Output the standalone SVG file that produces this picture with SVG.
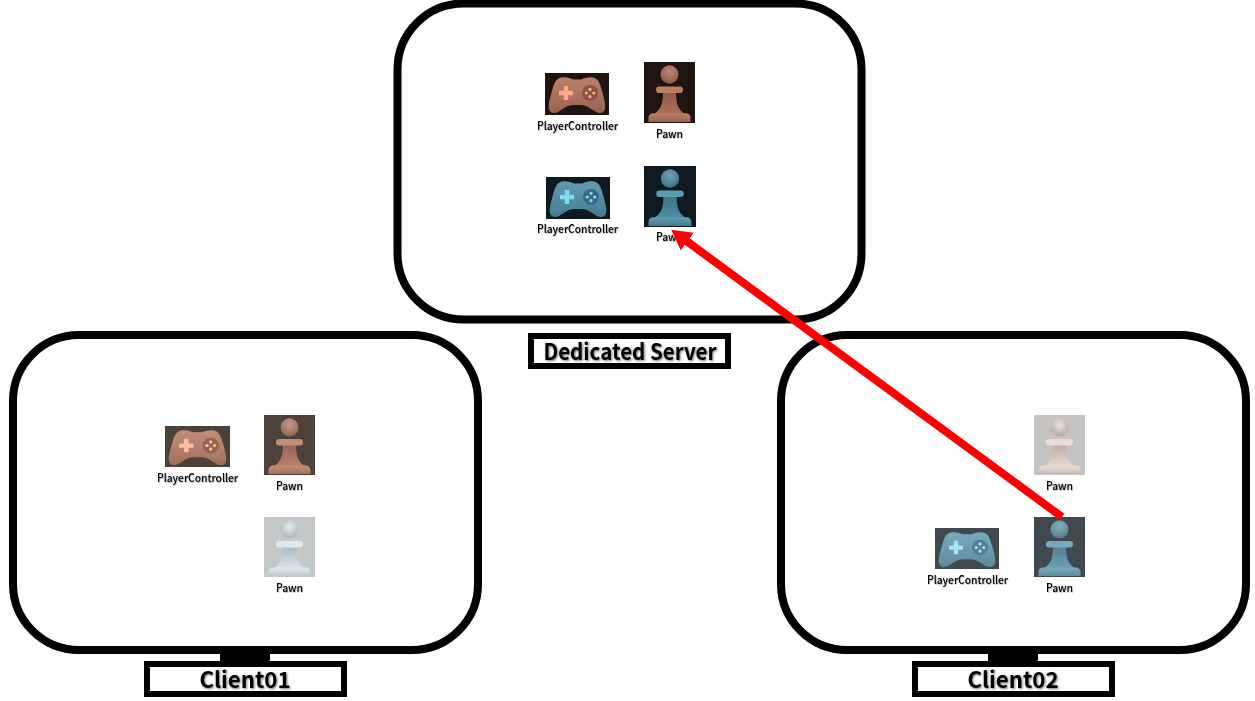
<svg xmlns="http://www.w3.org/2000/svg" width="1255" height="701" viewBox="0 0 1255 701">
<style>
.frame{fill:#fff;stroke:#000;stroke-width:8}
.box{fill:#fff;stroke:#000;stroke-width:6}
.title{font-family:"Noto Sans CJK KR","Noto Sans",sans-serif;font-weight:700;font-size:22px;fill:#000;text-anchor:middle;filter:url(#ts)}
.small{font-family:"Noto Sans CJK KR","Noto Sans",sans-serif;font-weight:500;font-size:11px;fill:#000;text-anchor:middle;filter:url(#ts2)}
.orange{--bg:#1f1410;--b:#b0705a;--d:#bd7c64;--hi:#ffa987;--dk:#8a5441}
.blue{--bg:#0f1a20;--b:#4f8ea6;--d:#5b9bb3;--hi:#7fdcf5;--dk:#3a6b80}
.orangeC{--bg:#4c423c;--b:#b9806a;--d:#c48c75;--hi:#ffc0a6;--dk:#96634f}
.blueC{--bg:#40494e;--b:#6a9fb3;--d:#76abbe;--hi:#a0e4f7;--dk:#527f91}
.ghostO{--bg:#c5c3c2;--b:#e6d8d0;--d:#ebddd5;--hi:#f5e0d5;--dk:#d8c6bc}
.ghostB{--bg:#c4c7c8;--b:#d8e6ec;--d:#dcebf0;--hi:#e0f2f8;--dk:#c4d5dc}
</style>
<defs>
<filter id="ts" x="-10%" y="-20%" width="120%" height="150%"><feDropShadow dx="1" dy="1" stdDeviation="1" flood-color="#000" flood-opacity=".55"/></filter>
<filter id="ts2" x="-10%" y="-20%" width="120%" height="150%"><feDropShadow dx=".6" dy=".6" stdDeviation=".6" flood-color="#000" flood-opacity=".4"/></filter>
<radialGradient id="ball" cx=".5" cy=".35" r=".65"><stop offset="0" stop-color="#fff" stop-opacity=".18"/><stop offset="1" stop-color="#000" stop-opacity=".22"/></radialGradient>
<linearGradient id="stem" x1="0" y1="0" x2="0" y2="1"><stop offset="0" stop-color="#000" stop-opacity=".2"/><stop offset="1" stop-color="#000" stop-opacity="0"/></linearGradient>
<linearGradient id="shade" x1="0" y1="0" x2="0" y2="1"><stop offset="0" stop-color="#fff" stop-opacity=".1"/><stop offset="1" stop-color="#000" stop-opacity=".14"/></linearGradient>
<symbol id="pawn" viewBox="0 0 51 60" preserveAspectRatio="none">
<rect width="51" height="60" style="fill:var(--bg)"/>
<path d="M19 29H32C32 40 33 46 42 52H9C18 46 19 40 19 29Z" style="fill:var(--b)"/>
<path d="M19 29H32C32 40 33 46 42 52H9C18 46 19 40 19 29Z" fill="url(#stem)"/>
<rect x="12" y="24" width="27" height="6.400" rx="3.200" style="fill:var(--d)"/>
<path d="M9 50.500H42C45 50.500 46.500 53 46.500 55V59H4.500V55C4.500 53 6 50.500 9 50.500Z" style="fill:var(--b)"/>
<path d="M9 50.500H42C45 50.500 46.500 53 46.500 55V59H4.500V55C4.500 53 6 50.500 9 50.500Z" fill="url(#shade)"/>
<circle cx="25.500" cy="12.300" r="9" style="fill:var(--b)"/>
<circle cx="25.500" cy="12.300" r="9" fill="url(#ball)"/>
</symbol>
<symbol id="pad" viewBox="0 0 64 42" preserveAspectRatio="none">
<rect width="64" height="42" style="fill:var(--bg)"/>
<path d="M16 4.500C21 3.500 25 5.500 28 6.500H36C39 5.500 43 3.500 48 4.500C53 5.500 55 10 57 18C59 25 61 32 60 36C59 40 55 41 51 39C46 36 42 32 36 32H28C22 32 18 36 13 39C9 41 5 40 4 36C3 32 5 25 7 18C9 10 11 5.500 16 4.500Z" style="fill:var(--b)"/>
<path d="M16 4.500C21 3.500 25 5.500 28 6.500H36C39 5.500 43 3.500 48 4.500C53 5.500 55 10 57 18C59 25 61 32 60 36C59 40 55 41 51 39C46 36 42 32 36 32H28C22 32 18 36 13 39C9 41 5 40 4 36C3 32 5 25 7 18C9 10 11 5.500 16 4.500Z" fill="url(#shade)"/>
<path d="M18.800 13H23.200V17.800H28V22.200H23.200V27H18.800V22.200H14V17.800H18.800Z" style="fill:var(--hi)"/>
<circle cx="45" cy="20" r="8" style="fill:var(--dk)"/>
<g style="fill:var(--hi)"><circle cx="45" cy="16.300" r="1.600"/><circle cx="45" cy="23.700" r="1.600"/><circle cx="41.300" cy="20" r="1.600"/><circle cx="48.700" cy="20" r="1.600"/></g>
</symbol>
<marker id="ah" markerUnits="userSpaceOnUse" markerWidth="22" markerHeight="24" refX="1" refY="12" orient="auto"><path d="M0 1L20 12L0 23Z" fill="#f00"/></marker>
</defs>
<g id="server">
<rect class="frame" x="397.500" y="3.500" width="464" height="316" rx="66"/>
<use href="#pad" class="orange" x="545" y="73" width="64" height="42"/>
<text class="small" x="577.500" y="130" textLength="81" lengthAdjust="spacingAndGlyphs">PlayerController</text>
<use href="#pawn" class="orange" x="644" y="62" width="51" height="61"/>
<text class="small" x="669.500" y="138" textLength="27" lengthAdjust="spacingAndGlyphs">Pawn</text>
<use href="#pad" class="blue" x="546" y="177" width="64" height="42"/>
<text class="small" x="577.500" y="233" textLength="81" lengthAdjust="spacingAndGlyphs">PlayerController</text>
<use href="#pawn" class="blue" x="644" y="166" width="52" height="61"/>
<text class="small" x="669.500" y="241" textLength="27" lengthAdjust="spacingAndGlyphs">Pawn</text>
</g>
<g id="server-label">
<rect class="box" x="531" y="336" width="197" height="30"/>
<text class="title" x="630" y="360" textLength="173" lengthAdjust="spacingAndGlyphs">Dedicated Server</text>
</g>
<g id="client01">
<rect class="frame" x="13" y="335" width="465" height="315" rx="66"/>
<use href="#pad" class="orangeC" x="165" y="426" width="65" height="41"/>
<text class="small" x="197.500" y="482" textLength="81" lengthAdjust="spacingAndGlyphs">PlayerController</text>
<use href="#pawn" class="orangeC" x="264" y="415" width="51" height="60"/>
<text class="small" x="289.500" y="490" textLength="27" lengthAdjust="spacingAndGlyphs">Pawn</text>
<use href="#pawn" class="ghostB" x="264" y="517" width="51" height="60"/>
<text class="small" x="289.500" y="592" textLength="27" lengthAdjust="spacingAndGlyphs">Pawn</text>
</g>
<g id="client01-label">
<rect x="220" y="650" width="50" height="12" fill="#000"/>
<rect class="box" x="147" y="664" width="197" height="30"/>
<text class="title" x="245" y="688" textLength="91" lengthAdjust="spacingAndGlyphs">Client01</text>
</g>
<g id="client02">
<rect class="frame" x="781" y="335" width="465" height="315" rx="66"/>
<use href="#pawn" class="ghostO" x="1034" y="415" width="51" height="60"/>
<text class="small" x="1059.500" y="490" textLength="27" lengthAdjust="spacingAndGlyphs">Pawn</text>
<use href="#pad" class="blueC" x="935" y="528" width="64" height="41"/>
<text class="small" x="967.500" y="584" textLength="81" lengthAdjust="spacingAndGlyphs">PlayerController</text>
<use href="#pawn" class="blueC" x="1034" y="517" width="51" height="60"/>
<text class="small" x="1059.500" y="592" textLength="27" lengthAdjust="spacingAndGlyphs">Pawn</text>
</g>
<g id="client02-label">
<rect x="988" y="650" width="50" height="12" fill="#000"/>
<rect class="box" x="915" y="664" width="197" height="30"/>
<text class="title" x="1013" y="688" textLength="91" lengthAdjust="spacingAndGlyphs">Client02</text>
</g>
<g id="connectors">
<line x1="1062" y1="517" x2="686.500" y2="241" stroke="#f00" stroke-width="8" marker-end="url(#ah)"/>
</g>
</svg>
